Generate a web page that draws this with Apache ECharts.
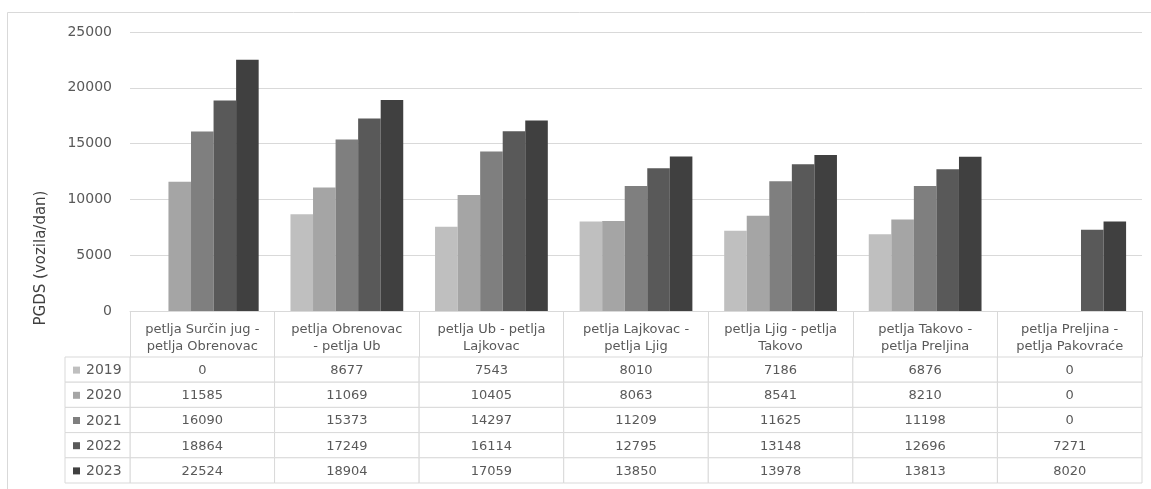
<!DOCTYPE html>
<html>
<head>
<meta charset="utf-8">
<script src="https://cdn.jsdelivr.net/npm/echarts@6/dist/echarts.min.js"></script>
<style>
html,body{margin:0;padding:0;background:#fff;}
#chart{width:1151px;height:489px;}
</style>
</head>
<body>
<div id="chart"></div>
<script>
const categories = [
  'petlja Surčin jug -\npetlja Obrenovac',
  'petlja Obrenovac\n- petlja Ub',
  'petlja Ub - petlja\nLajkovac',
  'petlja Lajkovac -\npetlja Ljig',
  'petlja Ljig - petlja\nTakovo',
  'petlja Takovo -\npetlja Preljina',
  'petlja Preljina -\npetlja Pakovraće'
];
const years = ['2019', '2020', '2021', '2022', '2023'];
const v2019 = [0, 8677, 7543, 8010, 7186, 6876, 0];
const v2020 = [11585, 11069, 10405, 8063, 8541, 8210, 0];
const v2021 = [16090, 15373, 14297, 11209, 11625, 11198, 0];
const v2022 = [18864, 17249, 16114, 12795, 13148, 12696, 7271];
const v2023 = [22524, 18904, 17059, 13850, 13978, 13813, 8020];
const yMin = 0, yMax = 25000, yStep = 5000;
const yTitle = 'PGDS (vozila/dan)';

const values = [v2019, v2020, v2021, v2022, v2023];
const colors = ['#bfbfbf', '#a5a5a5', '#7f7f7f', '#595959', '#404040'];
const FONT = 'DejaVu Sans';
const TXT = '#595959';
const LINE = '#d9d9d9';

const chart = echarts.init(document.getElementById('chart'), null, {renderer: 'canvas'});

const barSeries = years.map((y, i) => ({
  name: y,
  type: 'bar',
  xAxisIndex: 0,
  yAxisIndex: 0,
  data: values[i],
  barGap: '0%',
  barCategoryGap: '22%',
  itemStyle: {color: colors[i]},
  emphasis: {disabled: true}
}));

const cellData = [];
years.forEach((y, r) => {
  categories.forEach((c, k) => {
    cellData.push([k, r, values[r][k]]);
  });
});

const cellSeries = {
  type: 'custom',
  xAxisIndex: 1,
  yAxisIndex: 1,
  data: cellData,
  silent: true,
  renderItem: function (params, api) {
    const p = api.coord([api.value(0), api.value(1)]);
    const s = api.size([1, 1]);
    return {
      type: 'group',
      children: [
        {type: 'rect', shape: {x: p[0] - s[0] / 2, y: p[1] - s[1] / 2, width: s[0], height: s[1]},
         style: {fill: '#fff', stroke: LINE, lineWidth: 1}},
        {type: 'text', style: {text: String(api.value(2)), x: p[0], y: p[1] + 1, align: 'center',
          verticalAlign: 'middle', fill: TXT, font: '13px "' + FONT + '"'}}
      ]
    };
  }
};

const legendSeries = {
  type: 'custom',
  xAxisIndex: 1,
  yAxisIndex: 1,
  data: years.map((y, r) => [0, r]),
  silent: true,
  renderItem: function (params, api) {
    const cs = params.coordSys;
    const r = api.value(1);
    const p = api.coord([0, r]);
    const s = api.size([1, 1]);
    const top = p[1] - s[1] / 2;
    return {
      type: 'group',
      children: [
        {type: 'rect', shape: {x: cs.x - 65, y: top, width: 65, height: s[1]},
         style: {fill: '#fff', stroke: LINE, lineWidth: 1}},
        {type: 'rect', shape: {x: cs.x - 57, y: p[1] - 3, width: 7, height: 7},
         style: {fill: colors[r]}},
        {type: 'text', style: {text: years[r], x: cs.x - 44, y: p[1] + 1, align: 'left',
          verticalAlign: 'middle', fill: TXT, font: '14px "' + FONT + '"'}}
      ]
    };
  }
};

chart.setOption({
  animation: false,
  backgroundColor: '#fff',
  textStyle: {fontFamily: FONT},
  grid: [
    {left: 130, right: 9, top: 32, height: 279},
    {left: 130, right: 9, top: 357, height: 126}
  ],
  xAxis: [
    {
      gridIndex: 0, type: 'category', data: categories,
      axisLine: {show: true, lineStyle: {color: LINE, width: 1}},
      axisTick: {show: true, length: 46, lineStyle: {color: LINE, width: 1}},
      axisLabel: {interval: 0, margin: 10, fontSize: 13, lineHeight: 17, color: TXT, fontFamily: FONT}
    },
    {
      gridIndex: 1, type: 'category', data: categories, show: false
    }
  ],
  yAxis: [
    {
      gridIndex: 0, type: 'value', min: yMin, max: yMax, interval: yStep,
      axisLine: {show: false}, axisTick: {show: false},
      axisLabel: {margin: 18, fontSize: 14, color: TXT, fontFamily: FONT,
        formatter: function (v) { return String(v); }},
      splitLine: {lineStyle: {color: LINE, width: 1}}
    },
    {
      gridIndex: 1, type: 'category', data: years, inverse: true, show: false
    }
  ],
  graphic: [
    {type: 'rect', shape: {x: 7.5, y: 12.5, width: 1300, height: 700},
     style: {fill: 'none', stroke: LINE, lineWidth: 1}, silent: true, z: -1},
    {type: 'text', x: 41, y: 258, rotation: Math.PI / 2,
     style: {text: yTitle, align: 'center', verticalAlign: 'middle', fill: '#404040',
       font: '15px "' + FONT + '"'}}
  ],
  series: barSeries.concat([cellSeries, legendSeries])
});
</script>
</body>
</html>
